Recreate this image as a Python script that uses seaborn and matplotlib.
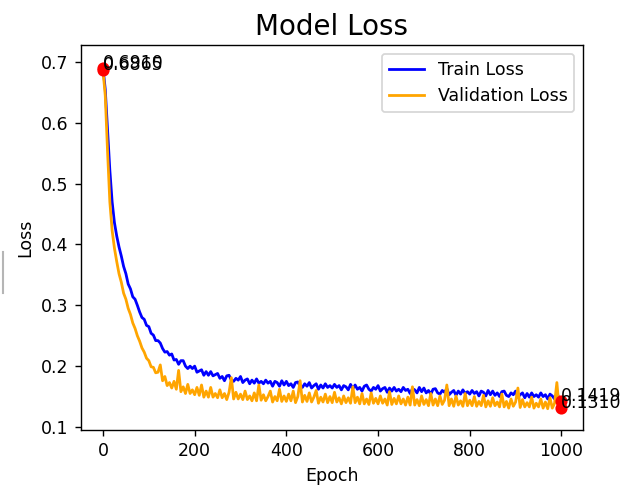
import matplotlib
matplotlib.use("Agg")
import matplotlib.pyplot as plt
from matplotlib.lines import Line2D
import seaborn as sns
import pandas as pd

# ---------------- data (every 5 epochs + last epoch) ----------------
epochs = list(range(0, 1000, 5)) + [999]

train_loss = [
    0.691, 0.655, 0.590, 0.522, 0.470, 0.436, 0.414, 0.396, 0.381, 0.364,
    0.352, 0.335, 0.327, 0.314, 0.310, 0.300, 0.289, 0.280, 0.277, 0.267,
    0.265, 0.254, 0.251, 0.242, 0.242, 0.238, 0.229, 0.223, 0.224, 0.218,
    0.220, 0.210, 0.211, 0.203, 0.209, 0.209, 0.200, 0.196, 0.200, 0.196,
    0.200, 0.190, 0.192, 0.194, 0.185, 0.191, 0.185, 0.191, 0.184, 0.186,
    0.188, 0.180, 0.183, 0.176, 0.184, 0.185, 0.177, 0.175, 0.180, 0.177,
    0.183, 0.173, 0.177, 0.179, 0.171, 0.177, 0.172, 0.179, 0.172, 0.175,
    0.171, 0.177, 0.172, 0.175, 0.167, 0.175, 0.173, 0.167, 0.176, 0.169,
    0.175, 0.168, 0.171, 0.165, 0.173, 0.174, 0.167, 0.165, 0.171, 0.167,
    0.173, 0.164, 0.168, 0.171, 0.162, 0.169, 0.164, 0.171, 0.165, 0.168,
    0.164, 0.170, 0.165, 0.168, 0.161, 0.168, 0.166, 0.161, 0.170, 0.163,
    0.169, 0.162, 0.165, 0.159, 0.167, 0.169, 0.162, 0.159, 0.165, 0.162,
    0.168, 0.159, 0.163, 0.165, 0.157, 0.164, 0.159, 0.165, 0.159, 0.162,
    0.158, 0.165, 0.160, 0.162, 0.155, 0.163, 0.161, 0.156, 0.165, 0.158,
    0.164, 0.156, 0.160, 0.154, 0.162, 0.163, 0.156, 0.154, 0.160, 0.157,
    0.163, 0.153, 0.157, 0.160, 0.152, 0.159, 0.154, 0.161, 0.155, 0.158,
    0.154, 0.160, 0.155, 0.158, 0.151, 0.159, 0.157, 0.151, 0.160, 0.153,
    0.159, 0.152, 0.156, 0.150, 0.158, 0.159, 0.152, 0.150, 0.156, 0.153,
    0.159, 0.149, 0.153, 0.156, 0.148, 0.155, 0.149, 0.156, 0.150, 0.153,
    0.149, 0.156, 0.150, 0.153, 0.146, 0.154, 0.151, 0.146, 0.155, 0.148,
    0.1419,
]

val_loss = [
    0.6865, 0.645, 0.553, 0.470, 0.423, 0.394, 0.372, 0.352, 0.338, 0.320,
    0.310, 0.295, 0.285, 0.271, 0.262, 0.250, 0.241, 0.230, 0.223, 0.213,
    0.209, 0.199, 0.198, 0.189, 0.190, 0.202, 0.176, 0.183, 0.168, 0.173,
    0.164, 0.175, 0.162, 0.193, 0.158, 0.166, 0.155, 0.170, 0.155, 0.161,
    0.153, 0.165, 0.152, 0.169, 0.149, 0.159, 0.149, 0.165, 0.149, 0.155,
    0.148, 0.161, 0.148, 0.155, 0.145, 0.157, 0.181, 0.146, 0.157, 0.146,
    0.154, 0.145, 0.159, 0.145, 0.151, 0.143, 0.156, 0.143, 0.169, 0.144,
    0.153, 0.143, 0.150, 0.159, 0.141, 0.150, 0.143, 0.162, 0.142, 0.151,
    0.142, 0.154, 0.143, 0.159, 0.140, 0.150, 0.176, 0.141, 0.152, 0.142,
    0.156, 0.141, 0.149, 0.160, 0.139, 0.149, 0.141, 0.154, 0.140, 0.150,
    0.140, 0.157, 0.141, 0.148, 0.138, 0.151, 0.140, 0.148, 0.139, 0.166,
    0.140, 0.149, 0.138, 0.155, 0.138, 0.146, 0.137, 0.156, 0.139, 0.147,
    0.138, 0.151, 0.139, 0.146, 0.136, 0.158, 0.137, 0.147, 0.138, 0.151,
    0.138, 0.146, 0.136, 0.149, 0.136, 0.166, 0.136, 0.145, 0.135, 0.151,
    0.137, 0.145, 0.135, 0.155, 0.136, 0.146, 0.135, 0.151, 0.137, 0.144,
    0.169, 0.135, 0.146, 0.134, 0.151, 0.136, 0.143, 0.134, 0.155, 0.135,
    0.144, 0.135, 0.150, 0.134, 0.142, 0.135, 0.152, 0.133, 0.143, 0.134,
    0.148, 0.135, 0.141, 0.133, 0.154, 0.133, 0.142, 0.131, 0.146, 0.134,
    0.141, 0.164, 0.132, 0.145, 0.133, 0.140, 0.133, 0.149, 0.131, 0.139,
    0.133, 0.146, 0.131, 0.141, 0.130, 0.148, 0.131, 0.139, 0.173, 0.131,
    0.1310,
]

series_names = ["Train Loss", "Validation Loss"]
series_colors = ["blue", "orange"]
x_ticks = [0, 200, 400, 600, 800, 1000]
y_ticks = [0.1, 0.2, 0.3, 0.4, 0.5, 0.6, 0.7]

# ---------------- figure ----------------
fig = plt.figure(figsize=(632 / 125, 489 / 125), dpi=125)
ax = fig.add_axes([80.5 / 632, 1 - 430 / 489, (583 - 80.5) / 632, (430 - 45) / 489])

df = pd.DataFrame({"epoch": epochs, "Train Loss": train_loss, "Validation Loss": val_loss})
for name, color in zip(series_names, series_colors):
    sns.lineplot(data=df, x="epoch", y=name, color=color, label=name, ax=ax, linewidth=1.6)

# start / end markers with value labels
for series in (train_loss, val_loss):
    for idx in (0, len(series) - 1):
        ax.scatter(epochs[idx], series[idx], color="red", zorder=5)
        ax.text(epochs[idx], series[idx], f"{series[idx]:.4f}", fontsize=10, zorder=6)

ax.set_title("Model Loss", fontsize=16)
ax.set_xlabel("Epoch", fontsize=10)
ax.set_ylabel("Loss", fontsize=10)
ax.set_xticks(x_ticks)
ax.set_yticks(y_ticks)
ax.set_xlim(-49, 1047)
ax.set_ylim(0.095, 0.728)
ax.legend(loc="upper right")

# stray grey fragment at the very left edge of the reference image
fig.add_artist(Line2D([2.5 / 632, 2.5 / 632], [1 - 252 / 489, 1 - 293 / 489],
                      transform=fig.transFigure, color="#b5b5b5", linewidth=1.2))

fig.savefig("out.png", dpi=125)
